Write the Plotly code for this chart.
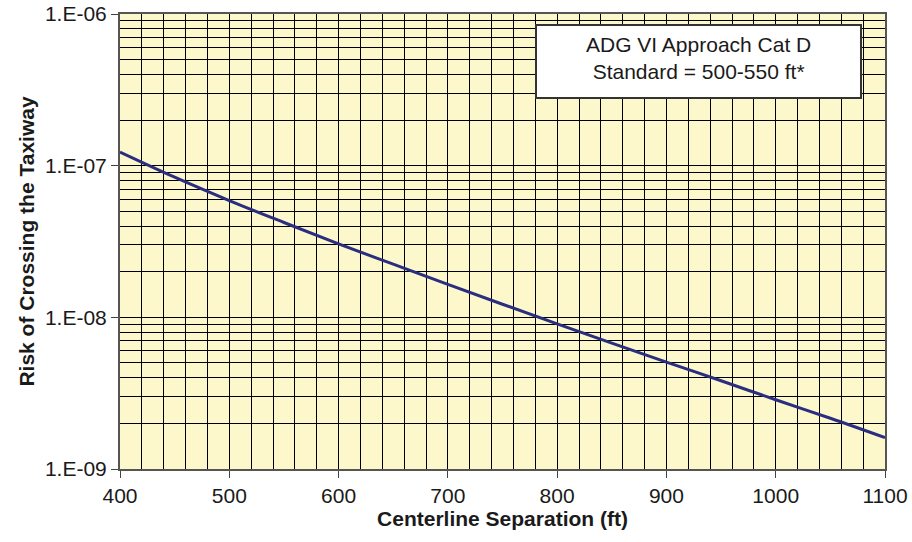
import plotly.graph_objects as go

# Centerline separation (ft) and risk of crossing the taxiway
separation_ft = [400, 450, 500, 550, 600, 650, 700, 750, 800, 850, 900, 950, 1000, 1050, 1100]
risk = [1.23e-7, 8.4e-8, 5.89e-8, 4.22e-8, 3.05e-8, 2.24e-8, 1.65e-8, 1.22e-8,
        9.06e-9, 6.76e-9, 5.07e-9, 3.82e-9, 2.86e-9, 2.16e-9, 1.61e-9]

y_tickvals = [1e-9, 1e-8, 1e-7, 1e-6]
y_ticktext = ["1.E-09", "1.E-08", "1.E-07", "1.E-06"]

note_lines = ["ADG VI Approach Cat D", "Standard = 500-550 ft*"]

font_family = "Liberation Sans, Arial, sans-serif"

fig = go.Figure(go.Scatter(
    x=separation_ft,
    y=risk,
    mode="lines",
    line=dict(color="#2b2e80", width=3, shape="spline"),
    showlegend=False,
    hoverinfo="skip",
))

fig.update_layout(
    width=912,
    height=542,
    margin=dict(l=120, r=27, t=14, b=73),
    paper_bgcolor="white",
    plot_bgcolor="#fcf8cc",
    font=dict(family=font_family, size=21, color="#1a1a1a"),
)

fig.update_xaxes(
    range=[400, 1100],
    dtick=100,
    showgrid=True,
    gridcolor="black",
    gridwidth=1.3,
    minor=dict(dtick=20, showgrid=True, gridcolor="black", gridwidth=1.3),
    ticks="outside",
    ticklen=7,
    tickcolor="#444",
    showline=True,
    linecolor="#555",
    linewidth=2,
    mirror=True,
    zeroline=False,
    automargin=False,
    ticklabeloverflow="allow",
    title=dict(text="<b>Centerline Separation (ft)</b>", font=dict(size=21), standoff=0),
)

fig.update_yaxes(
    type="log",
    range=[-9, -6],
    tickvals=y_tickvals,
    ticktext=y_ticktext,
    showgrid=True,
    gridcolor="black",
    gridwidth=1.3,
    minor=dict(dtick="D1", showgrid=True, gridcolor="black", gridwidth=1.3),
    ticks="outside",
    ticklen=7,
    tickcolor="#444",
    showline=True,
    linecolor="#555",
    linewidth=2,
    mirror=True,
    zeroline=False,
    automargin=False,
    ticklabeloverflow="allow",
    title=dict(text="<b>Risk of Crossing the Taxiway</b>", font=dict(size=21), standoff=5),
)

plot_w, plot_h = 765, 455
fig.add_shape(
    type="rect", xref="paper", yref="paper",
    x0=(536 - 120) / plot_w, x1=(861 - 120) / plot_w,
    y0=1 - (98 - 14) / plot_h, y1=1 - (25 - 14) / plot_h,
    fillcolor="white", line=dict(color="#333", width=2), layer="above",
)
fig.add_annotation(
    xref="paper", yref="paper",
    x=((536 + 861) / 2 - 120) / plot_w,
    y=1 - ((25 + 98) / 2 - 14) / plot_h,
    xanchor="center", yanchor="middle", yshift=3,
    text="<br>".join(note_lines),
    showarrow=False,
    font=dict(size=21, color="#1a1a1a"),
    align="center",
)

# drop the default 8px body margin so the figure fills the window
fig.write_html("out.html", config={"displayModeBar": False},
               post_script="document.body.style.margin = '0';")
